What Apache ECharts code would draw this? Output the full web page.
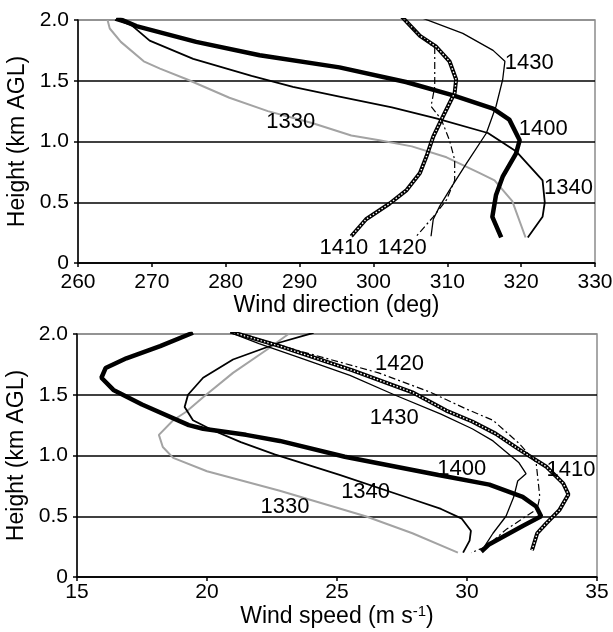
<!DOCTYPE html>
<html>
<head>
<meta charset="utf-8">
<script src="https://cdn.jsdelivr.net/npm/echarts/dist/echarts.min.js"></script>
<style>
  html, body { margin: 0; padding: 0; background: #fff; }
  #chart { width: 613px; height: 632px; }
</style>
</head>
<body>
<div id="chart"></div>
<script>
// Vertical profiles of wind direction and wind speed, one curve per sounding time.
// Each point is [value, height in km AGL].

// Wind direction (deg)
const dir1330 = [[264.0,2.0],[264.3,1.93],[265.8,1.82],[268.9,1.66],[271.1,1.60],[274.8,1.51],[280.5,1.36],[285.7,1.25],[291.8,1.15],[297.0,1.05],[300.8,1.01],[305.2,0.96],[309.9,0.87],[314.4,0.74],[316.4,0.68],[318.8,0.51],[320.6,0.21]];
const dir1340 = [[265.0,2.0],[267.2,1.96],[269.7,1.83],[275.6,1.68],[283.5,1.54],[289.1,1.45],[295.4,1.37],[302.5,1.28],[308.5,1.19],[315.5,1.07],[319.3,0.92],[322.9,0.68],[323.2,0.50],[322.9,0.38],[320.9,0.21]];
const dir1400 = [[265.2,2.02],[267.9,1.95],[276.0,1.82],[284.6,1.71],[295.4,1.61],[304.4,1.49],[310.8,1.38],[316.2,1.27],[318.4,1.18],[319.8,1.01],[319.3,0.90],[317.5,0.71],[316.6,0.56],[316.1,0.38],[317.3,0.21]];
const dir1410 = [[303.8,2.03],[306.3,1.87],[308.5,1.78],[310.3,1.66],[311.2,1.51],[311.0,1.40],[310.1,1.29],[309.2,1.18],[308.1,1.04],[307.2,0.88],[306.3,0.74],[304.5,0.60],[302.2,0.49],[299.0,0.36],[297.0,0.22]];
const dir1420 = [[303.8,2.03],[306.3,1.87],[308.3,1.77],[308.3,1.62],[308.3,1.45],[307.8,1.29],[309.2,1.18],[310.3,1.01],[311.0,0.85],[311.0,0.68],[309.9,0.52],[308.1,0.38],[305.8,0.22]];
const dir1430 = [[306.0,2.03],[312.1,1.89],[316.2,1.75],[317.8,1.66],[317.5,1.51],[316.6,1.29],[315.3,1.07],[312.6,0.82],[310.3,0.60],[309.0,0.47],[308.1,0.36],[307.8,0.22]];

// Wind speed (m s-1)
const spd1330 = [[23.2,2.01],[22.3,1.87],[21.0,1.68],[19.85,1.48],[19.2,1.36],[18.7,1.29],[18.15,1.17],[18.3,1.07],[18.7,0.98],[20.0,0.87],[22.8,0.71],[26.1,0.50],[27.9,0.36],[29.65,0.20]];
const spd1340 = [[24.1,2.01],[22.8,1.93],[21.0,1.79],[19.85,1.64],[19.27,1.50],[19.14,1.40],[19.46,1.29],[20.2,1.21],[21.3,1.11],[22.6,1.01],[25.1,0.84],[27.9,0.64],[29.0,0.56],[29.8,0.48],[30.15,0.38],[30.1,0.30],[29.85,0.20]];
const spd1400 = [[19.46,2.01],[18.2,1.90],[16.9,1.80],[16.1,1.72],[15.94,1.64],[16.4,1.54],[17.5,1.42],[19.3,1.25],[19.85,1.22],[21.5,1.17],[22.8,1.12],[25.3,0.99],[28.9,0.84],[30.86,0.76],[32.14,0.66],[32.66,0.58],[32.85,0.50],[32.14,0.42],[30.86,0.27],[30.55,0.21]];
const spd1410 = [[20.9,2.02],[22.8,1.90],[25.6,1.70],[27.9,1.52],[29.2,1.37],[30.2,1.28],[31.1,1.18],[32.0,1.05],[33.04,0.91],[33.7,0.77],[33.9,0.68],[33.55,0.55],[33.04,0.44],[32.7,0.36],[32.5,0.22]];
const spd1420 = [[20.9,2.03],[23.4,1.87],[26.6,1.68],[28.6,1.52],[30.0,1.38],[31.0,1.29],[32.0,1.10],[32.66,0.94],[32.8,0.66],[32.7,0.56],[31.5,0.39],[30.74,0.25],[30.16,0.20]];
const spd1430 = [[20.8,2.02],[22.0,1.92],[23.5,1.81],[25.5,1.66],[27.2,1.50],[29.0,1.34],[30.2,1.22],[31.0,1.12],[32.0,0.94],[32.27,0.85],[31.95,0.79],[31.8,0.66],[31.5,0.50],[31.0,0.36],[30.67,0.25],[30.6,0.21]];

// Curve labels: [text, value, height]
const dirLabels = [['1330',288.8,1.16],['1430',321.1,1.65],['1400',323.0,1.10],['1340',326.4,0.62],['1410',296.0,0.12],['1420',303.9,0.12]];
const spdLabels = [['1420',27.4,1.75],['1430',27.2,1.31],['1400',29.8,0.89],['1410',34.0,0.88],['1340',26.1,0.70],['1330',23.0,0.58]];

// Axis ranges and ticks
const dirRange = [260, 330, 10];
const spdRange = [15, 35, 5];
const heightRange = [0, 2, 0.5];

const FONT = '"Liberation Sans", Arial, sans-serif';
const TICK_SIZE = 21;
const NAME_SIZE = 23;
const LABEL_SIZE = 22;

const styles = {
  '1330': { color: '#a3a3a3', width: 2 },
  '1340': { color: '#000', width: 1.8 },
  '1400': { color: '#000', width: 4.5 },
  '1420': { color: '#000', width: 1.2, type: [7, 3, 2, 3] },
  '1430': { color: '#000', width: 1.3 }
};

function line(data, g, style, z) {
  return {
    type: 'line', xAxisIndex: g, yAxisIndex: g, data: data,
    symbol: 'none', showSymbol: false, silent: true, animation: false,
    lineStyle: style, z: z
  };
}

// thick curve with a broken white core (1410)
function patterned(data, g) {
  return [
    line(data, g, { color: '#000', width: 4 }, 3),
    line(data, g, { color: '#fff', width: 1.4, type: [1.5, 2] }, 4)
  ];
}

function profiles(set, g) {
  return [
    line(set['1330'], g, styles['1330'], 2),
    line(set['1340'], g, styles['1340'], 2),
    line(set['1400'], g, styles['1400'], 2),
    ...patterned(set['1410'], g),
    line(set['1420'], g, styles['1420'], 5),
    line(set['1430'], g, styles['1430'], 5)
  ];
}

function labelSeries(labels, g) {
  return {
    type: 'scatter', xAxisIndex: g, yAxisIndex: g, symbolSize: 0, silent: true,
    animation: false, z: 10, clip: false,
    itemStyle: { opacity: 1 },
    data: labels.map(l => ({ name: l[0], value: [l[1], l[2]] })),
    label: {
      show: true, position: 'inside', formatter: '{b}', opacity: 1,
      color: '#000', fontSize: LABEL_SIZE, fontFamily: FONT
    }
  };
}

function xAxis(g, range, name, nameGap, labelMargin, rich) {
  return {
    gridIndex: g, type: 'value', min: range[0], max: range[1], interval: range[2],
    axisLine: { show: true, onZero: false, lineStyle: { color: '#000', width: 1.5 } },
    axisTick: { show: true, inside: false, length: 4, lineStyle: { color: '#000', width: 1.5 } },
    axisLabel: { margin: labelMargin, fontSize: TICK_SIZE, color: '#000', fontFamily: FONT },
    splitLine: { show: false },
    name: name, nameLocation: 'middle', nameGap: nameGap,
    nameTextStyle: { fontSize: NAME_SIZE, color: '#000', fontFamily: FONT, rich: rich }
  };
}

function yAxis(g) {
  return {
    gridIndex: g, type: 'value', min: heightRange[0], max: heightRange[1], interval: heightRange[2],
    axisLine: { show: true, onZero: false, lineStyle: { color: '#000', width: 1.5 } },
    axisTick: { show: true, inside: false, length: 4, lineStyle: { color: '#000', width: 1.5 } },
    axisLabel: {
      margin: 9, fontSize: TICK_SIZE, color: '#000', fontFamily: FONT,
      formatter: v => (v === 0 ? '0' : v.toFixed(1))
    },
    splitLine: { show: true, lineStyle: { color: ['#000', '#000', '#000', '#000', '#8c8c8c'], width: 1.5 } },
    name: 'Height (km AGL)', nameLocation: 'middle', nameGap: 44, nameRotate: 90,
    nameTextStyle: { fontSize: NAME_SIZE, color: '#000', fontFamily: FONT }
  };
}

const dirSet = { '1330': dir1330, '1340': dir1340, '1400': dir1400, '1410': dir1410, '1420': dir1420, '1430': dir1430 };
const spdSet = { '1330': spd1330, '1340': spd1340, '1400': spd1400, '1410': spd1410, '1420': spd1420, '1430': spd1430 };

const chart = echarts.init(document.getElementById('chart'), null, { renderer: 'canvas' });
chart.setOption({
  backgroundColor: '#fff',
  animation: false,
  grid: [
    { left: 78, top: 20, width: 517, height: 243, show: true, borderColor: '#8c8c8c', borderWidth: 1.5, containLabel: false, outerBoundsMode: 'none' },
    { left: 77, top: 334, width: 520, height: 243, show: true, borderColor: '#8c8c8c', borderWidth: 1.5, containLabel: false, outerBoundsMode: 'none' }
  ],
  xAxis: [
    xAxis(0, dirRange, 'Wind direction (deg)', 27, 9),
    xAxis(1, spdRange, '{a|Wind speed (m s}{s|-1}{a|)}', 23, 5, {
      a: { fontSize: NAME_SIZE, color: '#000', fontFamily: FONT, lineHeight: 26 },
      s: { fontSize: 15, color: '#000', fontFamily: FONT, lineHeight: 26, verticalAlign: 'top' }
    })
  ],
  yAxis: [yAxis(0), yAxis(1)],
  series: [
    ...profiles(dirSet, 0),
    ...profiles(spdSet, 1),
    labelSeries(dirLabels, 0),
    labelSeries(spdLabels, 1)
  ]
});
</script>
</body>
</html>
